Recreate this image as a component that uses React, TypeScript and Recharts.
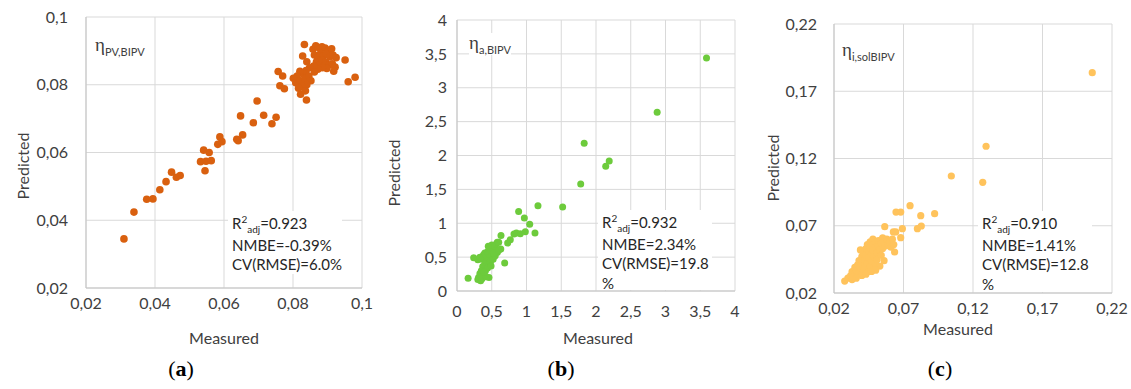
import { ScatterChart, Scatter, XAxis, YAxis, CartesianGrid } from "recharts";

// (a) eta PV,BIPV
const A_MEASURED = [
  0.031, 0.0339, 0.0376, 0.0394, 0.0414, 0.0432, 0.0448, 0.0462, 0.0473, 0.0532,
  0.0541, 0.0548, 0.0545, 0.0557, 0.0563, 0.0582, 0.0588, 0.0594, 0.0637, 0.0641,
  0.0654, 0.0648, 0.0685, 0.0696, 0.0715, 0.0739, 0.0751,
  0.0833, 0.0828, 0.084, 0.0858, 0.0866, 0.0874, 0.0884, 0.0893, 0.0903, 0.0912,
  0.0862, 0.0872, 0.088, 0.0888, 0.0897, 0.0907, 0.0916, 0.0925, 0.0868, 0.0878,
  0.0886, 0.0895, 0.0905, 0.0914, 0.0922, 0.0898, 0.0885, 0.0872, 0.086, 0.0848,
  0.0838, 0.083, 0.082, 0.0812, 0.0801, 0.0808, 0.0822, 0.0835, 0.0846, 0.0852,
  0.084, 0.0826, 0.0816, 0.0822, 0.0836, 0.0839, 0.0757, 0.077, 0.0762, 0.0775,
  0.0951, 0.098, 0.096, 0.0918, 0.0862,
];
const A_PREDICTED = [
  0.0345, 0.0424, 0.0462, 0.0463, 0.049, 0.0514, 0.0542, 0.0527, 0.0532, 0.0573,
  0.0607, 0.0574, 0.0546, 0.06, 0.0576, 0.0624, 0.0646, 0.0632, 0.0639, 0.0635,
  0.0652, 0.0708, 0.0688, 0.0752, 0.071, 0.0685, 0.0704,
  0.0919, 0.0885, 0.0868, 0.0905, 0.0915, 0.091, 0.0912, 0.0908, 0.0902, 0.0906,
  0.0888, 0.088, 0.0893, 0.0885, 0.089, 0.0882, 0.0888, 0.088, 0.0868, 0.086,
  0.0872, 0.0866, 0.0858, 0.0862, 0.0852, 0.0848, 0.085, 0.0846, 0.0855, 0.085,
  0.0842, 0.0832, 0.084, 0.0826, 0.0819, 0.0806, 0.0812, 0.0818, 0.0826, 0.0812,
  0.08, 0.0795, 0.079, 0.0772, 0.0782, 0.0755, 0.0839, 0.0826, 0.0797, 0.0788,
  0.0873, 0.0822, 0.0809, 0.084, 0.0838,
];

// (b) eta a,BIPV
const B_MEASURED = [
  3.59, 2.88, 1.83, 2.19, 2.14, 1.78, 1.52, 1.165, 0.887, 0.969, 1.046, 1.122, 0.983,
  0.911, 0.854, 0.82, 0.767, 0.729, 0.633, 0.6, 0.686, 0.16,
  0.24, 0.3, 0.33, 0.36, 0.38, 0.4, 0.42, 0.44, 0.46, 0.48, 0.5, 0.52, 0.54, 0.56,
  0.58, 0.63, 0.5, 0.45, 0.47, 0.43, 0.4, 0.37, 0.35, 0.33, 0.38, 0.41, 0.44, 0.48,
  0.52, 0.55, 0.58, 0.3, 0.34, 0.31, 0.36, 0.46, 0.42, 0.39, 0.53, 0.49, 0.6,
];
const B_PREDICTED = [
  3.44, 2.64, 2.18, 1.92, 1.84, 1.58, 1.24, 1.26, 1.175, 1.077, 0.984, 0.855, 0.876,
  0.846, 0.855, 0.84, 0.758, 0.708, 0.82, 0.72, 0.413, 0.19,
  0.49, 0.46, 0.5, 0.47, 0.53, 0.56, 0.52, 0.58, 0.55, 0.61, 0.63, 0.6, 0.66, 0.69,
  0.72, 0.62, 0.68, 0.66, 0.5, 0.44, 0.4, 0.36, 0.3, 0.26, 0.24, 0.3, 0.34, 0.42,
  0.47, 0.52, 0.57, 0.17, 0.15, 0.2, 0.18, 0.2, 0.21, 0.28, 0.56, 0.37, 0.6,
];

// (c) eta i,solBIPV
const C_MEASURED = [
  0.2058, 0.1294, 0.1044, 0.127, 0.0747, 0.0646, 0.068, 0.0824, 0.0924, 0.0565,
  0.0627, 0.0644, 0.0692, 0.08, 0.0828, 0.068, 0.0636, 0.0277,
  0.03, 0.032, 0.033, 0.035, 0.035, 0.036, 0.037, 0.038, 0.038, 0.039, 0.04, 0.04,
  0.041, 0.041, 0.042, 0.042, 0.043, 0.043, 0.044, 0.044, 0.045, 0.045, 0.045, 0.046,
  0.046, 0.046, 0.047, 0.047, 0.048, 0.048, 0.048, 0.049, 0.049, 0.05, 0.05, 0.05,
  0.051, 0.051, 0.052, 0.052, 0.053, 0.053, 0.054, 0.054, 0.055, 0.055, 0.056, 0.056,
  0.057, 0.058, 0.059, 0.06, 0.061, 0.062, 0.063, 0.04, 0.043, 0.047, 0.05, 0.036,
  0.033, 0.039,
];
const C_PREDICTED = [
  0.1838, 0.1291, 0.107, 0.1023, 0.0849, 0.0802, 0.0802, 0.0775, 0.079, 0.0693,
  0.0654, 0.0654, 0.0678, 0.0678, 0.0698, 0.0611, 0.0505, 0.0289,
  0.031, 0.033, 0.036, 0.034, 0.039, 0.037, 0.041, 0.035, 0.044, 0.039, 0.047, 0.042,
  0.036, 0.05, 0.045, 0.039, 0.053, 0.048, 0.042, 0.056, 0.051, 0.046, 0.036, 0.058,
  0.054, 0.04, 0.049, 0.044, 0.06, 0.056, 0.052, 0.047, 0.038, 0.058, 0.054, 0.042,
  0.05, 0.045, 0.059, 0.055, 0.052, 0.04, 0.057, 0.048, 0.061, 0.053, 0.058, 0.044,
  0.055, 0.06, 0.056, 0.058, 0.054, 0.06, 0.056, 0.033, 0.034, 0.036, 0.037, 0.031,
  0.03, 0.052,
];

const A_TICKS = [0.02, 0.04, 0.06, 0.08, 0.1];
const B_TICKS = [0, 0.5, 1, 1.5, 2, 2.5, 3, 3.5, 4];
const C_TICKS = [0.02, 0.07, 0.12, 0.17, 0.22];

const toPoints = (xs: number[], ys: number[]) => xs.map((x, i) => ({ x, y: ys[i] }));
const comma = (v: number) => String(v).replace(".", ",");

const SANS = "Lato, 'Open Sans', sans-serif";
const tickStyle = { fontFamily: SANS, fontSize: 16, fill: "#404040" };

interface PanelProps {
  left: number;
  width: number;
  yAxisWidth: number;
  plotTop: number;
  plotBottom: number;
  rightMargin: number;
  ticks: number[];
  data: { x: number; y: number }[];
  color: string;
  radius: number;
  xTickMargin: number;
  yTickMargin: number;
}

function Panel(p: PanelProps) {
  const domain: [number, number] = [p.ticks[0], p.ticks[p.ticks.length - 1]];
  return (
    <div style={{ position: "absolute", left: p.left, top: 0 }}>
      <ScatterChart
        width={p.width}
        height={389}
        margin={{ top: p.plotTop, right: p.rightMargin, bottom: 0, left: 0 }}
      >
        <CartesianGrid stroke="#d9d9d9" />
        <XAxis
          type="number"
          dataKey="x"
          domain={domain}
          ticks={p.ticks}
          interval={0}
          tickFormatter={comma}
          height={389 - p.plotBottom}
          tickLine={false}
          tickSize={0}
          tickMargin={p.xTickMargin}
          axisLine={{ stroke: "#c4c4c4" }}
          tick={tickStyle}
        />
        <YAxis
          type="number"
          dataKey="y"
          domain={domain}
          ticks={p.ticks}
          interval={0}
          tickFormatter={comma}
          width={p.yAxisWidth}
          tickLine={false}
          tickSize={0}
          tickMargin={p.yTickMargin}
          axisLine={{ stroke: "#c4c4c4" }}
          tick={tickStyle}
        />
        <Scatter
          data={p.data}
          fill={p.color}
          isAnimationActive={false}
          shape={(s: any) => <circle cx={s.cx} cy={s.cy} r={p.radius} fill={p.color} />}
        />
      </ScatterChart>
    </div>
  );
}

function Centered({ x, y, rotate, style, children }: any) {
  return (
    <div
      style={{
        position: "absolute",
        left: x,
        top: y,
        transform: `translate(-50%, -50%)${rotate ? " rotate(-90deg)" : ""}`,
        whiteSpace: "nowrap",
        fontFamily: SANS,
        fontSize: 16,
        color: "#404040",
        ...style,
      }}
    >
      {children}
    </div>
  );
}

function EtaLabel({ x, y, sub }: { x: number; y: number; sub: string }) {
  return (
    <div style={{ position: "absolute", left: x, top: y, lineHeight: "20px", whiteSpace: "nowrap", background: "#fff", color: "#404040" }}>
      <span style={{ fontFamily: "'Liberation Serif', serif", fontSize: 19 }}>η</span>
      <span style={{ fontFamily: SANS, fontSize: 11, position: "relative", top: 5 }}>{sub}</span>
    </div>
  );
}

function Stats({ x, y, w, h, lines }: { x: number; y: number; w: number; h: number; lines: string[] }) {
  return (
    <div
      style={{
        position: "absolute",
        left: x,
        top: y,
        width: w,
        height: h,
        background: "#fff",
        fontFamily: SANS,
        fontSize: 15,
        lineHeight: "19.5px",
        color: "#262626",
        paddingLeft: 4,
        paddingTop: 3,
        boxSizing: "border-box",
        whiteSpace: "nowrap",
      }}
    >
      <div>
        R<span style={{ fontSize: 10, position: "relative", top: -6 }}>2</span>
        <span style={{ fontSize: 10, position: "relative", top: 4 }}>adj</span>
        {lines[0]}
      </div>
      {lines.slice(1).map((l) => (
        <div key={l}>{l}</div>
      ))}
    </div>
  );
}

function PanelTag({ x, letter }: { x: number; letter: string }) {
  return (
    <Centered x={x} y={369} style={{ fontFamily: "'Liberation Serif', serif", fontSize: 22, color: "#000" }}>
      (<b>{letter}</b>)
    </Centered>
  );
}

export default function App() {
  return (
    <div style={{ position: "relative", width: 1131, height: 389, background: "#fff", overflow: "hidden" }}>
      <style>{`body{margin:0}`}</style>
      <Panel left={0} width={380} yAxisWidth={86} plotTop={17} plotBottom={288} rightMargin={18}
        ticks={A_TICKS} data={toPoints(A_MEASURED, A_PREDICTED)} color="#D9600F" radius={3.8}
        xTickMargin={10} yTickMargin={18} />
      <Panel left={380} width={370} yAxisWidth={77} plotTop={20} plotBottom={291} rightMargin={15}
        ticks={B_TICKS} data={toPoints(B_MEASURED, B_PREDICTED)} color="#6DCB3C" radius={3.5}
        xTickMargin={15} yTickMargin={10} />
      <Panel left={750} width={381} yAxisWidth={84} plotTop={24} plotBottom={293} rightMargin={19}
        ticks={C_TICKS} data={toPoints(C_MEASURED, C_PREDICTED)} color="#FFC35C" radius={3.6}
        xTickMargin={10} yTickMargin={17} />

      <EtaLabel x={95} y={35} sub="PV,BIPV" />
      <EtaLabel x={469} y={33} sub="a,BIPV" />
      <EtaLabel x={842} y={40} sub="i,solBIPV" />

      <Stats x={228} y={211} w={114} h={63} lines={["=0.923", "NMBE=-0.39%", "CV(RMSE)=6.0%"]} />
      <Stats x={598} y={210} w={114} h={80} lines={["=0.932", "NMBE=2.34%", "CV(RMSE)=19.8", "%"]} />
      <Stats x={978} y={211} w={114} h={81} lines={["=0.910", "NMBE=1.41%", "CV(RMSE)=12.8", "%"]} />

      <Centered x={22} y={166} rotate>Predicted</Centered>
      <Centered x={393} y={173} rotate>Predicted</Centered>
      <Centered x={772} y={168} rotate>Predicted</Centered>

      <Centered x={224} y={337}>Measured</Centered>
      <Centered x={598} y={337}>Measured</Centered>
      <Centered x={958} y={328}>Measured</Centered>

      <PanelTag x={181} letter="a" />
      <PanelTag x={561} letter="b" />
      <PanelTag x={940} letter="c" />
    </div>
  );
}
